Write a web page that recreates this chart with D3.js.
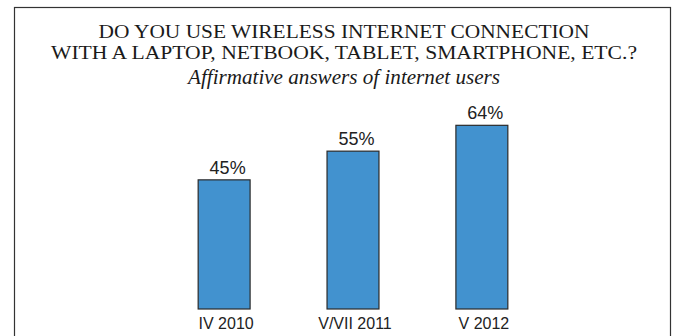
<!DOCTYPE html>
<html>
<head>
<meta charset="utf-8">
<script src="https://cdn.jsdelivr.net/npm/d3@7"></script>
<style>
  html, body { margin: 0; padding: 0; background: #fff; }
  svg { display: block; }
</style>
</head>
<body>
<svg id="chart" width="678" height="336"></svg>
<script>
// Survey periods and share of internet users answering "yes" (%)
const categories = ["IV 2010", "V/VII 2011", "V 2012"];
const values = [45, 55, 64];
const titleLines = [
  "DO YOU USE WIRELESS INTERNET CONNECTION",
  "WITH A LAPTOP, NETBOOK, TABLET, SMARTPHONE, ETC.?"
];
const subtitle = "Affirmative answers of internet users";

const svg = d3.select("#chart");

// Frame around the whole chart (bottom edge runs off the canvas)
svg.append("rect")
  .attr("x", 14.5).attr("y", 7.5)
  .attr("width", 656).attr("height", 340)
  .attr("fill", "none").attr("stroke", "#333").attr("stroke-width", 1.2);

// Two-line title, stretched to its full line widths
const cx = 344;
const titleWidths = [491, 586];
svg.selectAll("text.title")
  .data(titleLines)
  .join("text")
  .attr("class", "title")
  .attr("x", cx)
  .attr("y", (d, i) => 37.6 + i * 21.1)
  .attr("text-anchor", "middle")
  .attr("font-family", "'Liberation Serif', 'Times New Roman', serif")
  .attr("font-size", 19)
  .attr("textLength", (d, i) => titleWidths[i])
  .attr("lengthAdjust", "spacingAndGlyphs")
  .attr("fill", "#1a1a1a")
  .text(d => d);

svg.append("text")
  .attr("x", cx).attr("y", 84)
  .attr("text-anchor", "middle")
  .attr("font-family", "'Liberation Serif', 'Times New Roman', serif")
  .attr("font-style", "italic")
  .attr("font-size", 21)
  .attr("textLength", 312)
  .attr("lengthAdjust", "spacingAndGlyphs")
  .attr("fill", "#1a1a1a")
  .text(subtitle);

// Scales
const x = d3.scaleBand()
  .domain(categories)
  .range([159.5, 546.5])
  .paddingInner(0.597)
  .paddingOuter(0.3);

const y = d3.scaleLinear()
  .domain([0, 100])
  .range([309, 22]);

// Bars
svg.selectAll("rect.bar")
  .data(values)
  .join("rect")
  .attr("class", "bar")
  .attr("x", (d, i) => x(categories[i]))
  .attr("y", d => y(d))
  .attr("width", x.bandwidth())
  .attr("height", d => y(0) - y(d))
  .attr("fill", "#4292cf")
  .attr("stroke", "#2a2a2a")
  .attr("stroke-width", 1.2);

// Value labels
svg.selectAll("text.value")
  .data(values)
  .join("text")
  .attr("class", "value")
  .attr("x", (d, i) => x(categories[i]) + x.bandwidth() / 2 + 3.5)
  .attr("y", d => y(d) - 6)
  .attr("text-anchor", "middle")
  .attr("font-family", "'Liberation Sans', Arial, sans-serif")
  .attr("font-size", 18)
  .attr("fill", "#222")
  .text(d => d + "%");

// Category axis (labels only, no line or ticks)
const axis = svg.append("g")
  .attr("transform", `translate(0, ${y(0)})`)
  .call(d3.axisBottom(x).tickSize(0).tickPadding(9));
axis.select(".domain").remove();
axis.selectAll("text")
  .attr("dx", 2)
  .attr("font-family", "'Liberation Sans', Arial, sans-serif")
  .attr("font-size", 16)
  .attr("fill", "#222");
</script>
</body>
</html>
